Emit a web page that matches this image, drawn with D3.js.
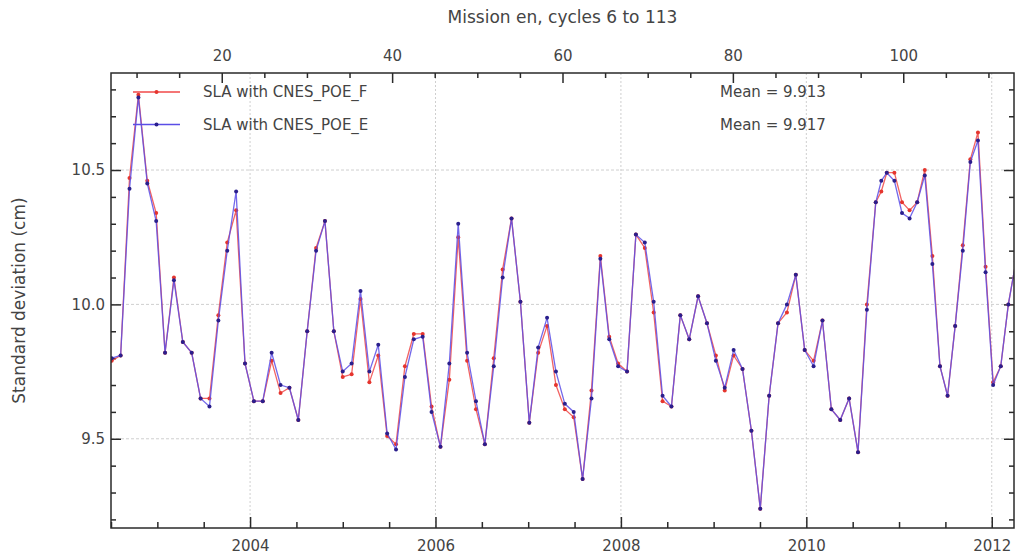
<!DOCTYPE html>
<html>
<head>
<meta charset="utf-8">
<script src="https://cdn.jsdelivr.net/npm/d3@7"></script>
<style>
  body { margin: 0; background: #fff; }
  text { font-family: "DejaVu Sans", sans-serif; fill: #444; }
</style>
</head>
<body>
<div id="chart"></div>
<script>
// cycle numbers (one point per cycle)
var cycles = [7, 8, 9, 10, 11, 12, 13, 14, 15, 16, 17, 18, 19, 20, 21, 22, 23, 24, 25, 26,
    27, 28, 29, 30, 31, 32, 33, 34, 35, 36, 37, 38, 39, 40, 41, 42, 43, 44, 45, 46,
    47, 48, 49, 50, 51, 52, 53, 54, 55, 56, 57, 58, 59, 60, 61, 62, 63, 64, 65, 66,
    67, 68, 69, 70, 71, 72, 73, 74, 75, 76, 77, 78, 79, 80, 81, 82, 83, 84, 85, 86,
    87, 88, 89, 90, 91, 92, 93, 94, 95, 96, 97, 98, 99, 100, 101, 102, 103, 104, 105, 106,
    107, 108, 109, 110, 111, 112];

// cycle -> date (decimal year), 35-day cycles then the shorter ones after the orbit change
var cycleAnchors = [7, 93, 95, 111];
var yearAnchors = [2002.508, 2010.749, 2010.868, 2012.179];

// SLA standard deviation (cm)
var slaPoeF = [9.79, 9.81, 10.47, 10.78, 10.46, 10.34, 9.82, 10.10, 9.86, 9.82,
    9.65, 9.65, 9.96, 10.23, 10.35, 9.78, 9.64, 9.64, 9.79, 9.67,
    9.69, 9.57, 9.90, 10.21, 10.31, 9.90, 9.73, 9.74, 10.02, 9.71,
    9.81, 9.51, 9.48, 9.77, 9.89, 9.89, 9.62, 9.47, 9.72, 10.25,
    9.79, 9.61, 9.48, 9.80, 10.13, 10.32, 10.01, 9.56, 9.82, 9.92,
    9.70, 9.61, 9.58, 9.35, 9.68, 10.18, 9.88, 9.78, 9.75, 10.26,
    10.21, 9.97, 9.64, 9.62, 9.96, 9.87, 10.03, 9.93, 9.81, 9.68,
    9.81, 9.76, 9.53, 9.24, 9.66, 9.93, 9.97, 10.11, 9.83, 9.79,
    9.94, 9.61, 9.57, 9.65, 9.45, 10.00, 10.38, 10.42, 10.49, 10.49,
    10.38, 10.35, 10.38, 10.50, 10.18, 9.77, 9.66, 9.92, 10.22, 10.54,
    10.64, 10.14, 9.71, 9.77, 10.00, 10.16];

var slaPoeE = [9.80, 9.81, 10.43, 10.77, 10.45, 10.31, 9.82, 10.09, 9.86, 9.82,
    9.65, 9.62, 9.94, 10.20, 10.42, 9.78, 9.64, 9.64, 9.82, 9.70,
    9.69, 9.57, 9.90, 10.20, 10.31, 9.90, 9.75, 9.78, 10.05, 9.75,
    9.85, 9.52, 9.46, 9.73, 9.87, 9.88, 9.60, 9.47, 9.78, 10.30,
    9.82, 9.64, 9.48, 9.77, 10.10, 10.32, 10.01, 9.56, 9.84, 9.95,
    9.75, 9.63, 9.60, 9.35, 9.65, 10.17, 9.87, 9.77, 9.75, 10.26,
    10.23, 10.01, 9.66, 9.62, 9.96, 9.87, 10.03, 9.93, 9.79, 9.69,
    9.83, 9.76, 9.53, 9.24, 9.66, 9.93, 10.00, 10.11, 9.83, 9.77,
    9.94, 9.61, 9.57, 9.65, 9.45, 9.98, 10.38, 10.46, 10.49, 10.46,
    10.34, 10.32, 10.38, 10.48, 10.15, 9.77, 9.66, 9.92, 10.20, 10.53,
    10.61, 10.12, 9.70, 9.77, 10.00, 10.16];

var seriesNames = ["SLA with CNES_POE_F", "SLA with CNES_POE_E"];
var seriesMeans = ["Mean = 9.913", "Mean = 9.917"];
var yearTicks = [2004, 2006, 2008, 2010, 2012];
var cycleTicks = [20, 40, 60, 80, 100];
var sdTicks = [9.5, 10.0, 10.5];

var margin = { top: 73, right: 1, bottom: 28, left: 111 };
var width = 1015 - margin.left - margin.right,
    height = 556 - margin.top - margin.bottom;

var svg = d3.select("#chart").append("svg")
    .attr("width", 1015)
    .attr("height", 556);

var g = svg.append("g")
    .attr("transform", "translate(" + margin.left + "," + margin.top + ")");

//Scales
var x = d3.scaleLinear().domain([2002.50, 2012.24]).range([0, width]);
var xCycle = d3.scaleLinear().domain([7.0, 113.0]).range([0, width]);
var y = d3.scaleLinear().domain([9.168, 10.861]).range([height, 0]);
var cycleYear = d3.scaleLinear().domain(cycleAnchors).range(yearAnchors);

//Grid
g.selectAll(".vgrid").data(yearTicks).enter().append("line")
    .attr("x1", function (d) { return x(d); })
    .attr("x2", function (d) { return x(d); })
    .attr("y1", 0).attr("y2", height)
    .attr("stroke", "#cfcfcf").attr("stroke-dasharray", "2,2");
g.selectAll(".hgrid").data(sdTicks).enter().append("line")
    .attr("x1", 0).attr("x2", width)
    .attr("y1", function (d) { return y(d); })
    .attr("y2", function (d) { return y(d); })
    .attr("stroke", "#cfcfcf").attr("stroke-dasharray", "3,2");

//Axes (ticks point inward)
function styleAxis(sel) {
    sel.select(".domain").remove();
    sel.selectAll(".tick line").attr("stroke", "#2a2a2a").attr("stroke-width", 1.5);
    sel.selectAll(".tick text").attr("fill", "#444")
        .style("font-family", "DejaVu Sans").style("font-size", "15px");
}

var minorYears = d3.range(2002.5, 2012.3, 0.5).filter(function (d) { return yearTicks.indexOf(d) < 0; });
var minorCycles = d3.range(10, 113, 5).filter(function (d) { return d % 20 !== 0; });
var minorSd = d3.range(9.2, 10.85, 0.1).map(function (d) { return +d.toFixed(1); })
    .filter(function (d) { return sdTicks.indexOf(d) < 0; });

g.append("g").attr("transform", "translate(0," + height + ")")
    .call(d3.axisBottom(x).tickValues(yearTicks).tickFormat(d3.format("d")).tickSize(-11).tickPadding(12))
    .call(styleAxis);
g.append("g").attr("transform", "translate(0," + height + ")")
    .call(d3.axisBottom(x).tickValues(minorYears).tickFormat("").tickSize(-6))
    .call(styleAxis);

g.append("g")
    .call(d3.axisTop(xCycle).tickValues(cycleTicks).tickFormat(d3.format("d")).tickSize(-10).tickPadding(12))
    .call(styleAxis);
g.append("g")
    .call(d3.axisTop(xCycle).tickValues(minorCycles).tickFormat("").tickSize(-5))
    .call(styleAxis);

g.append("g")
    .call(d3.axisLeft(y).tickValues(sdTicks).tickFormat(d3.format(".1f")).tickSize(-10).tickPadding(6))
    .call(styleAxis);
g.append("g")
    .call(d3.axisLeft(y).tickValues(minorSd).tickFormat("").tickSize(-5))
    .call(styleAxis);
g.append("g").attr("transform", "translate(" + width + ",0)")
    .call(d3.axisRight(y).tickValues(sdTicks).tickFormat("").tickSize(-10))
    .call(styleAxis);
g.append("g").attr("transform", "translate(" + width + ",0)")
    .call(d3.axisRight(y).tickValues(minorSd).tickFormat("").tickSize(-5))
    .call(styleAxis);

//Data lines, clipped to the plot
svg.append("defs").append("clipPath").attr("id", "plot-clip")
    .append("rect").attr("width", width).attr("height", height);

var plot = g.append("g").attr("clip-path", "url(#plot-clip)");

var line = d3.line()
    .x(function (d) { return x(cycleYear(d.c)); })
    .y(function (d) { return y(d.v); });

var series = [
    { values: slaPoeF, line: "#f04848", dot: "#e5352e" },
    { values: slaPoeE, line: "#5a4ee6", dot: "#2a1f8c" }
];

series.forEach(function (s) {
    var pts = cycles.map(function (c, i) { return { c: c, v: s.values[i] }; });
    plot.append("path").datum(pts)
        .attr("d", line)
        .attr("fill", "none")
        .attr("stroke", s.line)
        .attr("stroke-width", 1.3)
        .attr("stroke-opacity", 0.85);
    plot.selectAll(null).data(pts).enter().append("circle")
        .attr("cx", function (d) { return x(cycleYear(d.c)); })
        .attr("cy", function (d) { return y(d.v); })
        .attr("r", 2)
        .attr("fill", s.dot);
});

//Frame
g.append("rect").attr("width", width).attr("height", height)
    .attr("fill", "none").attr("stroke", "#2a2a2a").attr("stroke-width", 1.5);

//Legend
var legend = g.selectAll(".legend").data(series).enter().append("g")
    .attr("transform", function (d, i) { return "translate(0," + (19 + i * 32.5) + ")"; });
legend.append("line").attr("x1", 22).attr("x2", 69)
    .attr("stroke", function (d) { return d.line; }).attr("stroke-width", 1.3);
legend.append("circle").attr("cx", 45.5).attr("r", 2)
    .attr("fill", function (d) { return d.dot; });
legend.append("text").attr("x", 92).attr("dy", "0.35em")
    .style("font-size", "15px").attr("fill", "#333")
    .text(function (d, i) { return seriesNames[i]; });
legend.append("text").attr("x", 609).attr("dy", "0.35em")
    .style("font-size", "15px").attr("fill", "#333")
    .text(function (d, i) { return seriesMeans[i]; });

//Titles
svg.append("text").attr("x", margin.left + width / 2).attr("y", 23)
    .attr("text-anchor", "middle").style("font-size", "17px")
    .text("Mission en, cycles 6 to 113");

svg.append("text")
    .attr("transform", "translate(25," + (margin.top + height / 2) + ") rotate(-90)")
    .attr("text-anchor", "middle").style("font-size", "17px")
    .text("Standard deviation (cm)");
</script>
</body>
</html>
